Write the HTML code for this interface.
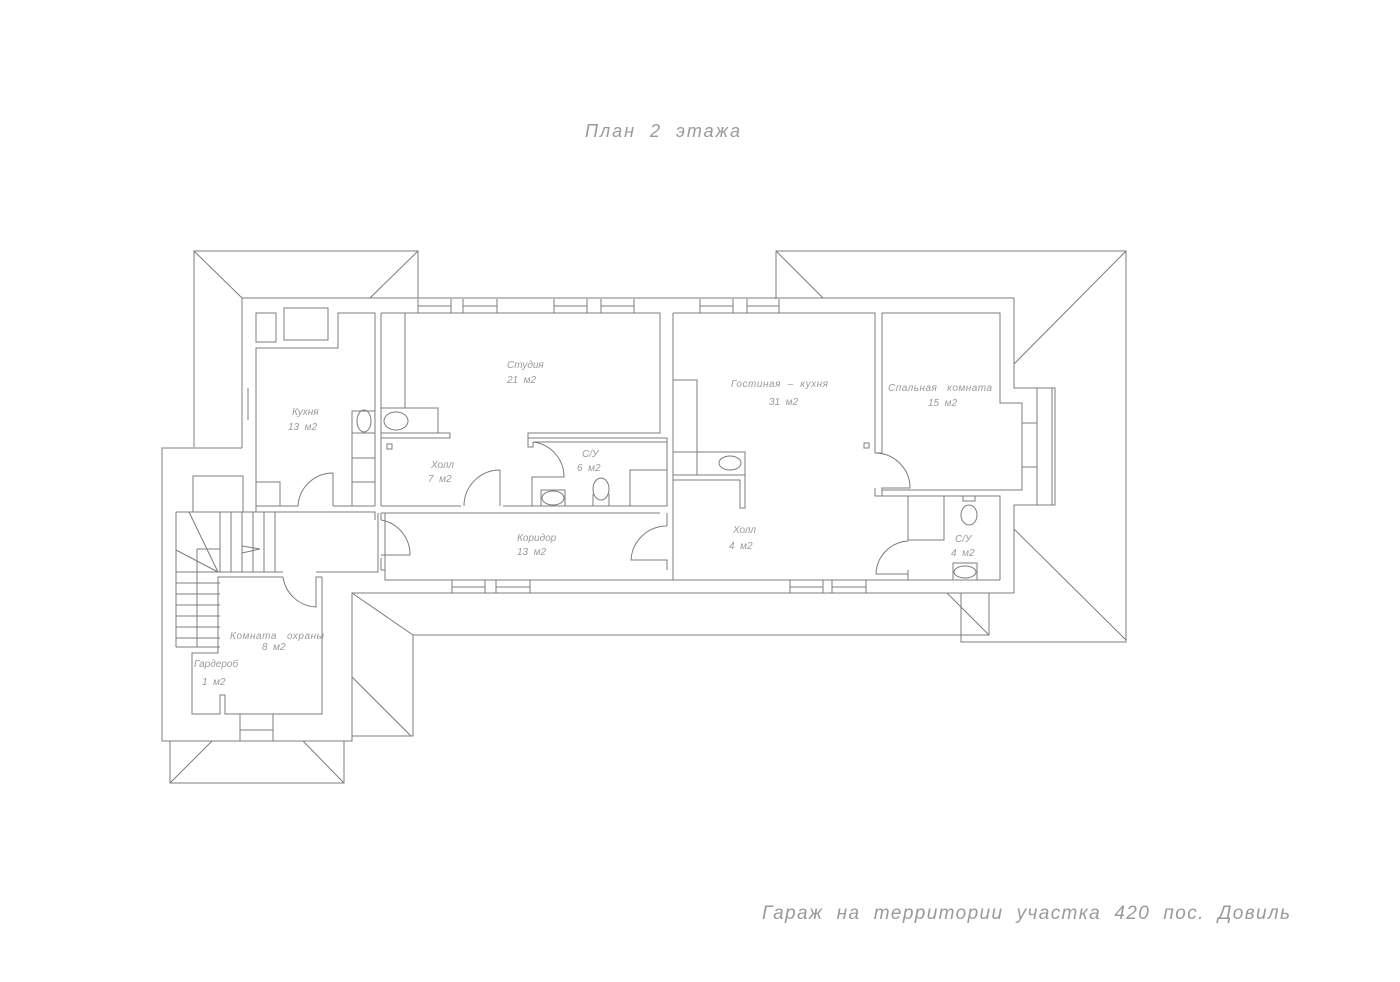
<!DOCTYPE html>
<html><head><meta charset="utf-8"><style>
html,body{margin:0;padding:0;background:#fff;}
svg{display:block}
text{font-family:"Liberation Sans","DejaVu Sans",sans-serif;font-style:italic;fill:#9a9a9a;white-space:pre;}
.l{font-size:10px}
</style></head><body>
<svg width="1400" height="982" viewBox="0 0 1400 982" xmlns="http://www.w3.org/2000/svg" xml:space="preserve">
<g fill="none" stroke="#7c7c7c" stroke-width="1">
<path d="M194,447 V251 H418 V298"/>
<path d="M194,251 L242,298 M418,251 L370,298"/>
<path d="M776,299 V251 H1126 V642 H961 V593"/>
<path d="M776,251 L823,298 M1126,251 L1014,364 M1014,529 L1126,640"/>
<path d="M352,593 V741 M352,736 H413 V635 H989 V593"/>
<path d="M352,593 L413,635 M352,677 L411,736 M947,593 L989,635"/>
<path d="M170,741 V783 H344 V741 M212,741 L170,783 M303,741 L344,783"/>
<path d="M242,448 V298 H1014 V388 H1037 V505 H1014 V593 H352 V741 H162 V448 H242"/>
<path d="M1037,388 H1055 V505 H1037 M1052,388 V505"/>
<path d="M418,299 V313 M451,299 V313 M463,299 V313 M497,299 V313 M418,306 H451 M463,306 H497"/>
<path d="M554,299 V313 M587,299 V313 M601,299 V313 M634,299 V313 M554,306 H587 M601,306 H634"/>
<path d="M700,299 V313 M733,299 V313 M747,299 V313 M779,299 V313 M700,306 H733 M747,306 H779"/>
<path d="M452,580 V593 M485,580 V593 M496,580 V593 M530,580 V593 M452,587 H485 M496,587 H530"/>
<path d="M790,580 V593 M823,580 V593 M832,580 V593 M866,580 V593 M790,587 H823 M832,587 H866"/>
<path d="M240,714 V741 M273,714 V741 M240,730 H273"/>
<path d="M242,388 V420 M256,388 V420 M248,388 V420"/>
<path d="M1022,410 V437 M1037,410 V437 M1022,455 V480 M1037,455 V480 M1022,423 H1037 M1022,467 H1037"/>
<path d="M256,506 V348 H338 V313 H375 V506 M256,506 H298 M333,506 H375"/>
<path d="M333,506 V473 M333,473 A35,35 0 0 0 298,506"/>
<rect x="256" y="313" width="20" height="29"/><rect x="284" y="308" width="44" height="32"/>
<rect x="256" y="482" width="24" height="24"/>
<rect x="352" y="411" width="23" height="22"/><ellipse cx="364" cy="421" rx="7" ry="11"/>
<path d="M352,433 V506 M352,458 H375 M352,482 H375"/>
<path d="M381,313 V506 M381,313 H660 V433 H528 V438 M381,433 H450 V438 H381"/>
<path d="M405,313 V408 M381,408 H438 V433"/>
<ellipse cx="396" cy="421" rx="12" ry="9"/>
<rect x="387" y="444" width="5" height="5"/>
<path d="M381,506 H461 M500,506 V470 M500,470 A36,36 0 0 0 464,506 M500,470 V506"/>
<path d="M528,438 H667 V506 H503 M528,438 V447 H533 V442 M533,442 H667 M533,442 A35,35 0 0 1 564,477 H532 V506"/>
<rect x="541" y="490" width="24" height="16"/><ellipse cx="553" cy="498" rx="11" ry="7"/>
<ellipse cx="601" cy="489" rx="8" ry="11"/><path d="M593,494 V506 M609,494 V506"/>
<rect x="630" y="470" width="37" height="36"/>
<path d="M381,513 H660 M385,513 V580 H1000 M381,513 V520 M381,558 V570 H385"/>
<path d="M381,520 A35,35 0 0 1 410,555 H381"/>
<path d="M667,513 V526 M667,526 A36,36 0 0 0 631,560 H667 V570"/>
<path d="M256,506 V512 M176,512 H375 V520 M176,512 V647"/>
<path d="M220,512 V572 M231,512 V572 M242,512 V572 M253,512 V572 M264,512 V572 M275,512 V572"/>
<path d="M176,572 H220 M176,583 H220 M176,594 H220 M176,605 H220 M176,616 H220 M176,627 H220 M176,638 H220 M176,647 H220 M197,549 V647 M197,549 H220"/>
<path d="M189,512 L218,572 M176,550 L218,572 M242,546 L260,549 L242,553"/>
<rect x="193" y="476" width="50" height="36"/>
<path d="M218,572 H283 M316,572 H378 V513 M322,577 V714 H225 V695 H220 V714 H192 V653 H218 V577 H283"/>
<path d="M283,577 A35,35 0 0 0 316,607 V577 H322 M316,577 V607"/>
<path d="M673,313 V580 M673,313 H875 V453 M882,313 V453 M875,453 H882 M875,453 A35,35 0 0 1 910,488 H882 V496 M875,488 V496 H908"/>
<path d="M673,380 H697 V475 M673,452 H745 V475 M673,475 H745 V508 H740 V480 H673"/>
<ellipse cx="730" cy="463" rx="11" ry="7"/>
<rect x="864" y="443" width="5" height="5"/>
<path d="M882,313 H1000 V403 H1022 V490 H882"/>
<path d="M908,496 H1000 V580 M908,496 V541 M908,541 A34,34 0 0 0 876,574 H908 V580 M908,580 V570"/>
<path d="M908,496 V540 H944 V496"/>
<ellipse cx="969" cy="515" rx="8" ry="10"/><rect x="963" y="496" width="12" height="5"/>
<rect x="953" y="563" width="24" height="17"/><ellipse cx="965" cy="572" rx="11" ry="6"/>
</g>
<text x="585" y="137" style="font-size:18px" textLength="155" lengthAdjust="spacing">План  2  этажа</text>
<text x="762" y="919" style="font-size:19px" textLength="528" lengthAdjust="spacing">Гараж  на  территории  участка  420  пос.  Довиль</text>
<text class="l" x="507" y="368">Студия</text><text class="l" x="507" y="383">21  м2</text>
<text class="l" x="292" y="415">Кухня</text><text class="l" x="288" y="430">13  м2</text>
<text class="l" x="431" y="468">Холл</text><text class="l" x="428" y="482">7  м2</text>
<text class="l" x="582" y="457">С/У</text><text class="l" x="577" y="471">6  м2</text>
<text class="l" x="517" y="541">Коридор</text><text class="l" x="517" y="555">13  м2</text>
<text class="l" x="731" y="387" textLength="97" lengthAdjust="spacing">Гостиная  –  кухня</text><text class="l" x="769" y="405">31  м2</text>
<text class="l" x="888" y="391" textLength="104" lengthAdjust="spacing">Спальная   комната</text><text class="l" x="928" y="406">15  м2</text>
<text class="l" x="733" y="533">Холл</text><text class="l" x="729" y="549">4  м2</text>
<text class="l" x="955" y="542">С/У</text><text class="l" x="951" y="556">4  м2</text>
<text class="l" x="230" y="639" textLength="94" lengthAdjust="spacing">Комната   охраны</text><text class="l" x="262" y="650">8  м2</text>
<text class="l" x="194" y="667">Гардероб</text><text class="l" x="202" y="685">1  м2</text>
</svg>
</body></html>
